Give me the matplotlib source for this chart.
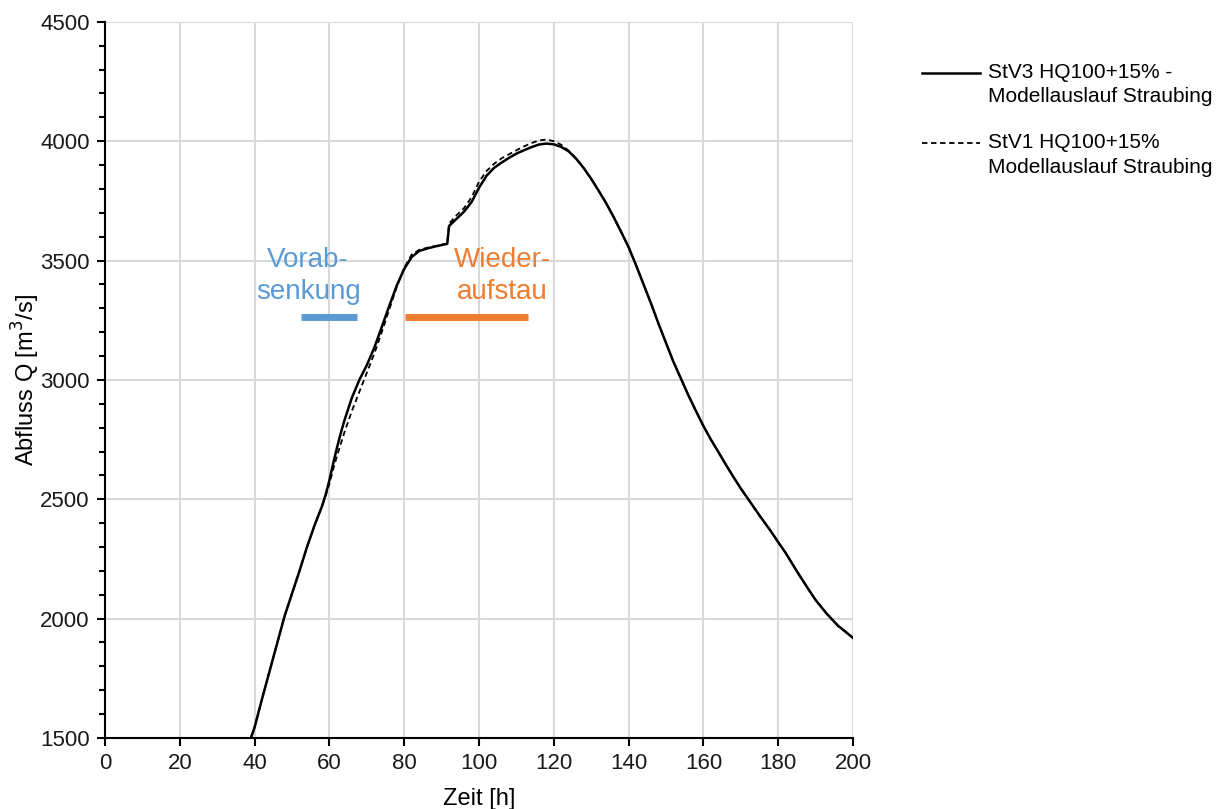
import matplotlib.pyplot as plt
from matplotlib.ticker import MultipleLocator
from matplotlib.legend_handler import HandlerLine2D

plt.rcParams['font.family'] = ['Liberation Sans', 'DejaVu Sans']

# Zeit [h]
t = [39, 40, 42, 44, 46, 48, 50, 52, 54, 56, 58, 59, 60, 61, 62, 63, 64, 66, 68, 70, 72,
     74, 76, 78, 80, 82, 84, 86, 88, 90, 91.5, 92, 94, 96, 98, 100, 102, 104, 106, 108,
     110, 112, 114, 116, 118, 120, 122, 124, 126, 128, 130, 132, 134, 136, 138, 140, 142,
     144, 146, 148, 150, 152, 154, 156, 158, 160, 162, 164, 166, 168, 170, 172, 175, 178,
     180, 182, 185, 188, 190, 193, 196, 198, 200]

# StV3 (solid)
q_stv3 = [1500, 1545, 1665, 1780, 1895, 2010, 2105, 2200, 2300, 2390, 2470, 2520, 2580,
          2650, 2715, 2775, 2830, 2925, 3000, 3062, 3135, 3222, 3310, 3395, 3465, 3515,
          3540, 3550, 3558, 3565, 3570, 3645, 3675, 3705, 3745, 3805, 3855, 3888, 3910,
          3930, 3948, 3962, 3975, 3986, 3990, 3987, 3976, 3957, 3926, 3887, 3842, 3792,
          3740, 3682, 3620, 3556, 3480, 3400, 3320, 3235, 3155, 3075, 3005, 2935, 2870,
          2807, 2750, 2698, 2645, 2594, 2545, 2500, 2432, 2367, 2320, 2275, 2198, 2125,
          2078, 2020, 1970, 1945, 1919]

# StV1 (dashed)
q_stv1 = [1500, 1545, 1665, 1780, 1895, 2010, 2105, 2200, 2300, 2390, 2470, 2515, 2565,
          2625, 2680, 2730, 2780, 2870, 2950, 3030, 3110, 3200, 3295, 3390, 3470, 3525,
          3545, 3553, 3560, 3566, 3572, 3655, 3690, 3720, 3765, 3830, 3875, 3905, 3928,
          3945, 3962, 3978, 3992, 4003, 4007, 4000, 3985, 3960, 3928, 3888, 3843, 3793,
          3741, 3683, 3620, 3556, 3480, 3400, 3320, 3235, 3155, 3075, 3005, 2935, 2870,
          2807, 2750, 2698, 2645, 2594, 2545, 2500, 2432, 2367, 2320, 2275, 2198, 2125,
          2078, 2020, 1970, 1945, 1919]

labels = ['StV3 HQ100+15% -\nModellauslauf Straubing',
          'StV1 HQ100+15%\nModellauslauf Straubing']

# Zeitraeume der Steuerung
vorab = (52.4, 67.4)
wieder = (80.2, 113.1)
bar_level = 3262


class FirstLineHandler(HandlerLine2D):
    # legend line sits next to the first text line, not the middle
    def create_artists(self, legend, orig_handle, xdescent, ydescent, width, height,
                       fontsize, trans):
        return super().create_artists(legend, orig_handle, xdescent, ydescent - 17.5,
                                      width, height, fontsize, trans)


fig = plt.figure(figsize=(12.27, 8.09), dpi=100)
ax = fig.add_axes([0.0856, 0.0878, 0.6096, 0.8852])

l1, = ax.plot(t, q_stv3, color='black', lw=1.8, label=labels[0], zorder=4)
l2, = ax.plot(t, q_stv1, color='black', lw=1.3, linestyle=(0, (3, 2)), label=labels[1],
              zorder=3)

ax.plot(vorab, [bar_level, bar_level], color='#5B9BD5', lw=5, solid_capstyle='butt')
ax.plot(wieder, [bar_level, bar_level], color='#ED7D31', lw=5, solid_capstyle='butt')
ax.text(54.3, 3437, 'Vorab-\nsenkung', color='#5B9BD5', fontsize=20, ha='center',
        va='center', linespacing=1.3)
ax.text(106.2, 3437, 'Wieder-\naufstau', color='#ED7D31', fontsize=20, ha='center',
        va='center', linespacing=1.3)

ax.set_xlim(0, 200)
ax.set_ylim(1500, 4500)
ax.xaxis.set_major_locator(MultipleLocator(20))
ax.yaxis.set_major_locator(MultipleLocator(500))
ax.yaxis.set_minor_locator(MultipleLocator(100))
ax.grid(True, which='major', color='#D9D9D9', lw=1.5)
ax.set_axisbelow(True)

for s in ['top', 'right']:
    ax.spines[s].set_visible(False)
for s in ['left', 'bottom']:
    ax.spines[s].set_linewidth(1.5)

ax.tick_params(axis='both', which='major', direction='out', length=6, width=1.5,
               labelsize=16, pad=5, labelcolor='#1a1a1a')
ax.tick_params(axis='y', which='minor', direction='out', length=4, width=1.5)

ax.set_xlabel('Zeit [h]', fontsize=17, labelpad=10)
ax.set_ylabel('Abfluss Q [m$^3$/s]', fontsize=17, labelpad=-1)

leg = fig.legend(handles=[l1, l2], loc='upper left',
                 bbox_to_anchor=(922 / 1227, 1 - 63 / 809), frameon=False,
                 fontsize=15, handlelength=2.8, handletextpad=0.35, labelspacing=1.3,
                 borderpad=0, borderaxespad=0,
                 handler_map={l1: FirstLineHandler(), l2: FirstLineHandler()})
for txt in leg.get_texts():
    txt.set_linespacing(1.35)

fig.savefig('out.png', dpi=100)
